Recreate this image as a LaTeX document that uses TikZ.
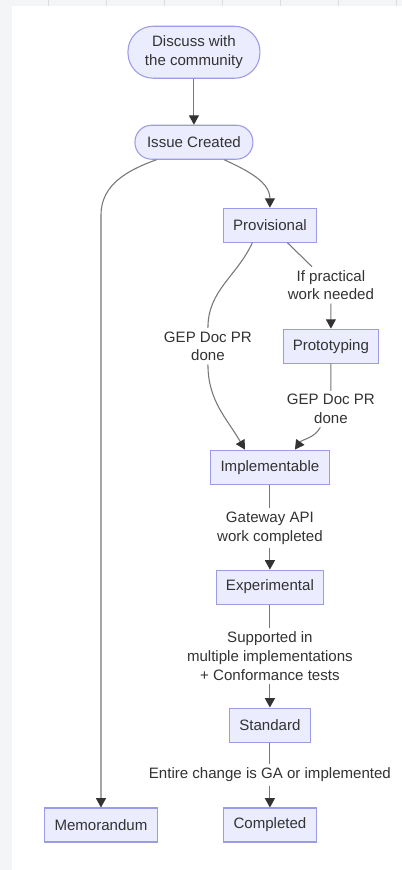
\documentclass[tikz,border=0pt]{standalone}
\usepackage{fontspec}
\setmainfont{Liberation Sans}
\usetikzlibrary{arrows.meta}
\definecolor{boxfill}{HTML}{ECECFF}
\definecolor{boxline}{HTML}{9B9BE6}
\definecolor{inkgray}{HTML}{333333}
\definecolor{wiregray}{HTML}{777777}
\definecolor{pagegray}{HTML}{F4F5F7}
\definecolor{rulegray}{HTML}{DDDEE2}
\begin{document}
\begin{tikzpicture}[x=0.75pt,y=0.75pt,
    every node/.style={font=\fontsize{11.3}{14}\selectfont,text=inkgray},
    state/.style={draw=boxline,fill=boxfill,line width=0.8pt,minimum height=25.5pt,inner xsep=7.3pt},
    startbox/.style={state,rounded corners=12.5pt},
    edgelabel/.style={align=center,inner sep=2.5pt},
    edge/.style={draw=wiregray,line width=0.8pt,-{Triangle[width=7.5pt,length=7pt,color=inkgray]}}]
    % page
    \fill[pagegray] (0,0) rectangle (402,-870);
    \fill[white] (12,-6) rectangle (402,-870);
    \foreach \gx in {48,106,...,396}
      \draw[rulegray] (\gx,0) -- (\gx,-6);
    % TOP : start
    \node[startbox,align=center,minimum width=99pt,minimum height=39pt,rounded corners=19pt] (discuss) at (194,-52) {Discuss with\\the community};
    \node[startbox,minimum width=88.5pt] (issue) at (194,-142) {Issue Created};
    % MAIN COLUMN
    \node[state] (prov) at (270,-225) {Provisional};
    \node[state] (proto) at (331,-346) {Prototyping};
    \node[state] (impl) at (270,-467) {Implementable};
    \node[state] (exp) at (270,-587) {Experimental};
    \node[state] (std) at (270,-725) {Standard};
    \node[state] (comp) at (270,-825) {Completed};
    % LEFT : memorandum
    \node[state] (memo) at (101,-825) {Memorandum};
    % edge labels
    \node[edgelabel] (ifneed) at (331,-285) {If practical\\work needed};
    \node[edgelabel] (gepa) at (208,-346) {GEP Doc PR\\done};
    \node[edgelabel] (gepb) at (331,-409) {GEP Doc PR\\done};
    \node[edgelabel] (gwdone) at (270,-528) {Gateway API\\work completed};
    \node[edgelabel] (suppt) at (270,-656) {Supported in\\multiple implementations\\+ Conformance tests};
    \node[edgelabel] (entire) at (270,-775) {Entire change is GA or implemented};
    % edges
    \draw[edge] (discuss) -- (issue);
    \draw[edge] (issue.-30) to[out=-25,in=90] (prov);
    \draw[edge] (issue.-155) to[out=-160,in=90] (memo.north |- 0,-215) -- (memo);
    \draw[edge] (prov.-45) -- (ifneed) -- (proto);
    \draw[edge] (prov.-135) to[out=-115,in=90] (gepa) to[out=-90,in=120] (impl.145);
    \draw[edge] (proto) -- (gepb) to[out=-120,in=55] (impl.35);
    \draw[edge] (impl) -- (gwdone) -- (exp);
    \draw[edge] (exp) -- (suppt) -- (std);
    \draw[edge] (std) -- (entire) -- (comp);
  \end{tikzpicture}
\end{document}
